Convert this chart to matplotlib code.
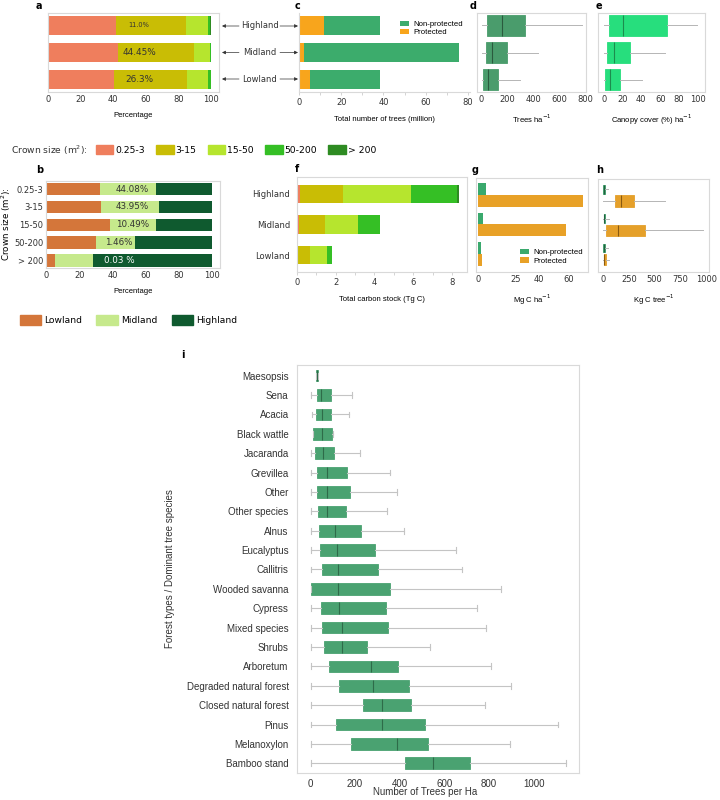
import matplotlib
matplotlib.use("Agg")
import matplotlib.pyplot as plt
from matplotlib.patches import Patch
import numpy as np

plt.rcParams['font.family'] = ['DejaVu Sans']
ARIAL = ['Liberation Sans', 'DejaVu Sans']

# ---------------- data ----------------
regions = ['Highland', 'Midland', 'Lowland']
crown_classes = ['0.25-3', '3-15', '15-50', '50-200', '> 200']
crown_colors = ['#EF7E5D', '#C9BD05', '#B6E52E', '#35BF25', '#2E8B22']

# panel a: % of trees by crown class within each region
a_0253 = [42.0, 43.0, 40.5]
a_315 = [43.0, 46.5, 45.0]
a_1550 = [13.0, 10.2, 13.0]
a_50200 = [1.7, 0.3, 1.5]
a_200 = [0.3, 0.0, 0.0]
a_labels = ['11.0%', '44.45%', '26.3%']

# panel b: % of each crown class by region
b_lowland = [32.6, 33.2, 38.2, 30.2, 5.2]
b_midland = [33.8, 34.8, 27.8, 23.6, 22.8]
b_highland = [33.6, 32.0, 34.0, 46.2, 72.0]
b_labels = ['44.08%', '43.95%', '10.49%', '1.46%', '0.03 %']

# panel c: total number of trees (million)
c_protected = [12.0, 2.2, 5.1]
c_nonprotected = [26.6, 73.8, 33.5]

# panel d: trees per ha (whislo, q1, med, q3, whishi)
d_highland = [0, 44, 160, 337, 777]
d_midland = [0, 31, 83, 194, 440]
d_lowland = [5, 10, 52, 124, 295]

# panel e: canopy cover (%)
e_highland = [0, 5.5, 21, 67.5, 99]
e_midland = [0, 4, 11, 28, 65]
e_lowland = [0, 1.4, 6.8, 17, 41]

# panel f: total carbon stock (Tg C) by crown class
f_0253 = [0.14, 0.09, 0.03]
f_315 = [2.22, 1.34, 0.66]
f_1550 = [3.52, 1.72, 0.86]
f_50200 = [2.38, 1.12, 0.26]
f_200 = [0.12, 0.01, 0.0]

# panel g: Mg C per ha
g_nonprotected = [4.9, 2.9, 1.8]
g_protected = [69.6, 58.2, 2.4]

# panel h: Kg C per tree (whislo, q1, med, q3, whishi)
h_np_highland = [0, 3, 10, 18, 48]
h_np_midland = [0, 4, 12, 22, 58]
h_np_lowland = [0, 3, 10, 18, 45]
h_p_highland = [0, 113, 177, 300, 603]
h_p_midland = [0, 26, 145, 403, 974]
h_p_lowland = [0, 4, 13, 26, 58]

# panel i: trees per ha by forest type / dominant species
i_species = ['Maesopsis', 'Sena', 'Acacia', 'Black wattle', 'Jacaranda', 'Grevillea',
             'Other', 'Other species', 'Alnus', 'Eucalyptus', 'Callitris',
             'Wooded savanna', 'Cypress', 'Mixed species', 'Shrubs', 'Arboretum',
             'Degraded natural forest', 'Closed natural forest', 'Pinus',
             'Melanoxylon', 'Bamboo stand']
i_whislo = [27, 3, 7, 12, 3, 3, 3, 3, 3, 3, 3, 3, 3, 3, 3, 3, 3, 3, 3, 3, 3]
i_q1 = [27, 30, 27, 12, 21, 33, 33, 36, 42, 46, 54, 6, 51, 52, 64, 86, 132, 235, 116, 183, 426]
i_med = [31, 48, 52, 52, 57, 77, 77, 77, 113, 122, 126, 126, 131, 141, 144, 271, 283, 324, 324, 391, 551]
i_q3 = [36, 92, 94, 100, 107, 164, 177, 159, 226, 289, 305, 356, 339, 347, 254, 393, 442, 454, 515, 530, 714]
i_whishi = [36, 186, 173, 104, 225, 360, 391, 344, 421, 653, 682, 854, 746, 787, 537, 811, 900, 781, 1108, 896, 1146]

# ---------------- layout helpers ----------------
W, H = 720, 800
fig = plt.figure(figsize=(W / 100, H / 100), dpi=100)


def add_ax(x0, y0, x1, y1):
    return fig.add_axes([x0 / W, 1 - y1 / H, (x1 - x0) / W, (y1 - y0) / H])


SPINE = '#d9d9d9'
TICKFS = 6


def style(ax, fs=TICKFS, family=None):
    for s in ax.spines.values():
        s.set_color(SPINE)
        s.set_linewidth(0.8)
    ax.tick_params(axis='both', colors='#cccccc', labelcolor='#333333',
                   labelsize=fs, length=2.5, width=0.6, pad=2)
    if family:
        for lab in ax.get_xticklabels() + ax.get_yticklabels():
            lab.set_family(family)


def panel_letter(x, y, s):
    fig.text(x / W, 1 - y / H, s, fontsize=7, fontweight='bold', ha='left', va='center')


ypos = np.arange(len(regions))

# ---------------- panel a ----------------
ax = add_ax(48, 13, 219, 92)
left = np.zeros(3)
for vals, col in zip([a_0253, a_315, a_1550, a_50200, a_200], crown_colors):
    ax.barh(ypos, vals, left=left, height=0.7, color=col)
    left += np.array(vals)
ax.set_xlim(0, 105)
ax.set_ylim(2.46, -0.46)
ax.set_yticks([])
ax.set_xticks([0, 20, 40, 60, 80, 100])
for k, t in enumerate(a_labels):
    ax.text(56, k, t, ha='center', va='center', fontsize=4.8 if k == 0 else 6.4, color='#333333')
ax.set_xlabel('Percentage', fontsize=5.5, family=ARIAL, labelpad=6)
style(ax)
ax.tick_params(axis='x', length=0)
panel_letter(36, 6, 'a')

# arrows between a and c
for k, name in enumerate(regions):
    yy = H - (26 + 26.5 * k)
    fig.text(259.5 / W, yy / H, name, fontsize=6, ha='center', va='center', color='#333333')
    ax.annotate('', xy=(222, yy), xytext=(239, yy), xycoords='figure pixels',
                textcoords='figure pixels',
                arrowprops=dict(arrowstyle='-|>', color='#333333', lw=0.5,
                                mutation_scale=5, shrinkA=0, shrinkB=0))
    ax.annotate('', xy=(298, yy), xytext=(280, yy), xycoords='figure pixels',
                textcoords='figure pixels',
                arrowprops=dict(arrowstyle='-|>', color='#333333', lw=0.5,
                                mutation_scale=5, shrinkA=0, shrinkB=0))

# ---------------- panel c ----------------
ax = add_ax(299, 13, 470, 92)
ax.barh(ypos, c_protected, height=0.72, color='#F8A51C', label='Protected')
ax.barh(ypos, c_nonprotected, left=c_protected, height=0.72, color='#3CAC6C', label='Non-protected')
ax.set_xlim(0, 81)
ax.set_ylim(2.46, -0.46)
ax.set_yticks([])
ax.set_xticks([0, 20, 40, 60, 80])
ax.set_xticks([10, 30, 50, 70], minor=True)
ax.set_xlabel('Total number of trees (million)', fontsize=5.5, family=ARIAL, labelpad=6)
h_, l_ = ax.get_legend_handles_labels()
ax.legend(h_[::-1], l_[::-1], loc='upper right', bbox_to_anchor=(0.99, 0.97), frameon=False,
          prop={'family': ARIAL, 'size': 5.6}, handlelength=1.2, handleheight=0.7,
          handletextpad=0.5, labelspacing=0.1, borderpad=0.2)
style(ax)
for s in ['top', 'right']:
    ax.spines[s].set_visible(False)
ax.tick_params(axis='x', which='minor', length=2, colors='#cccccc')
panel_letter(295, 6, 'c')


def region_boxes(ax, stats_list, color, median_color, positions, width, caps=False):
    stats = [dict(whislo=s[0], q1=s[1], med=s[2], q3=s[3], whishi=s[4]) for s in stats_list]
    ax.bxp(stats, positions=positions, widths=width, orientation='horizontal',
           patch_artist=True, showfliers=False, showcaps=caps,
           boxprops=dict(facecolor=color, edgecolor=color, linewidth=0.6),
           medianprops=dict(color=median_color, linewidth=0.8),
           whiskerprops=dict(color='#b5b5b5', linewidth=0.7),
           capprops=dict(color='#b5b5b5', linewidth=0.7))


# ---------------- panel d ----------------
ax = add_ax(477, 13, 586, 92)
region_boxes(ax, [d_highland, d_midland, d_lowland], '#4A9C6C', '#2A5A3E', ypos, 0.8)
ax.set_xlim(-35, 808)
ax.set_ylim(2.46, -0.46)
ax.set_yticks([])
ax.set_xticks([0, 200, 400, 600, 800])
ax.set_xticklabels(['0', '200', '400', '600', '800'])
ax.set_xlabel('Trees ha$^{-1}$', fontsize=5.5, family=ARIAL, labelpad=6)
style(ax)
ax.tick_params(axis='x', length=0)
panel_letter(470, 6, 'd')

# ---------------- panel e ----------------
ax = add_ax(598, 13, 705, 92)
region_boxes(ax, [e_highland, e_midland, e_lowland], '#27DE7D', '#1C8C4E', ypos, 0.8)
ax.set_xlim(-6, 107.5)
ax.set_ylim(2.46, -0.46)
ax.set_yticks([])
ax.set_xticks([0, 20, 40, 60, 80, 100])
ax.set_xticklabels(['0', '20', '40', '60', '80', '100'])
ax.set_xlabel('Canopy cover (%) ha$^{-1}$', fontsize=5.5, family=ARIAL, labelpad=6)
style(ax)
ax.tick_params(axis='x', length=0)
panel_letter(596, 6, 'e')

# ---------------- crown size legend ----------------
fig.text(11 / W, 1 - 150 / H, 'Crown size (m$^2$):', fontsize=6.6, ha='left', va='center', color='#333333')
fig.legend([Patch(color=c) for c in crown_colors], crown_classes, ncol=5,
           loc='center left', bbox_to_anchor=(90 / W, 1 - 150 / H), frameon=False,
           fontsize=6.7, handlelength=1.9, handleheight=1.1, handletextpad=0.2,
           columnspacing=1.2, borderpad=0.1)

# ---------------- panel b ----------------
ax = add_ax(46, 181, 220, 268)
yb = np.arange(len(crown_classes))
b_colors = ['#D4763A', '#C6E98C', '#0F5A2F']
left = np.zeros(len(crown_classes))
for vals, col in zip([b_lowland, b_midland, b_highland], b_colors):
    ax.barh(yb, vals, left=left, height=0.7, color=col)
    left += np.array(vals)
ax.set_xlim(0, 104.6)
ax.set_ylim(4.42, -0.45)
ax.set_yticks(yb)
ax.set_yticklabels(crown_classes)
ax.set_xticks([0, 20, 40, 60, 80, 100])
for k, t in enumerate(b_labels):
    ax.text(52 if k < 3 else 44, k, t, ha='center', va='center', fontsize=6.3,
            color='white' if k == 4 else '#333333')
ax.set_xlabel('Percentage', fontsize=5.5, family=ARIAL, labelpad=6)
ax.set_ylabel('Crown size (m$^2$):', fontsize=6.3)
ax.yaxis.set_label_coords(-0.19, 0.5)
style(ax)
ax.tick_params(axis='both', length=0)
panel_letter(36, 170, 'b')

fig.legend([Patch(color=c) for c in b_colors], ['Lowland', 'Midland', 'Highland'], ncol=3,
           loc='center left', bbox_to_anchor=(14 / W, 1 - 320 / H), frameon=False,
           fontsize=6.6, handlelength=2.35, handleheight=1.4, handletextpad=0.35,
           columnspacing=1.55, borderpad=0.1)

# ---------------- panel f ----------------
ax = add_ax(297, 177, 467, 272)
left = np.zeros(3)
for vals, col in zip([f_0253, f_315, f_1550, f_50200, f_200], crown_colors):
    ax.barh(ypos, vals, left=left, height=0.6, color=col)
    left += np.array(vals)
ax.set_xlim(0, 8.78)
ax.set_ylim(2.55, -0.55)
ax.set_yticks(ypos)
ax.set_yticklabels(regions)
ax.set_xticks([0, 2, 4, 6, 8])
ax.set_xticks([1, 3, 5, 7], minor=True)
ax.set_xlabel('Total carbon stock (Tg C)', fontsize=5.5, family=ARIAL, labelpad=6)
style(ax)
ax.tick_params(axis='y', length=0, pad=5)
ax.tick_params(axis='x', which='minor', length=2, colors='#cccccc')
panel_letter(295, 169, 'f')

# ---------------- panel g ----------------
ax = add_ax(476, 178, 588, 272)
ax.barh(ypos - 0.2, g_nonprotected, height=0.4, color='#3AA96D', label='Non-protected')
ax.barh(ypos + 0.2, g_protected, height=0.4, color='#E8A127', label='Protected')
ax.set_xlim(-1.5, 73)
ax.set_ylim(2.62, -0.58)
ax.set_yticks([])
ax.set_xticks([0, 25, 40, 60])
ax.set_xlabel('Mg C ha$^{-1}$', fontsize=5.5, family=ARIAL, labelpad=6)
ax.legend(loc='lower right', bbox_to_anchor=(1.0, 0.02), frameon=False,
          prop={'family': ARIAL, 'size': 5.6}, handlelength=1.2, handleheight=0.7,
          handletextpad=0.5, labelspacing=0.1, borderpad=0.2)
style(ax)
ax.tick_params(axis='x', length=0)
panel_letter(472, 170, 'g')

# ---------------- panel h ----------------
ax = add_ax(598, 179, 709, 272)
region_boxes(ax, [h_np_highland, h_np_midland, h_np_lowland], '#3A9E68', '#24603F', ypos - 0.2, 0.3)
region_boxes(ax, [h_p_highland, h_p_midland, h_p_lowland], '#E5A02A', '#8A5A10', ypos + 0.2, 0.38)
ax.set_xlim(-50, 1028)
ax.set_ylim(2.62, -0.55)
ax.set_yticks([])
ax.set_xticks([0, 250, 500, 750, 1000])
ax.set_xticklabels(['0', '250', '500', '750', '1000'])
ax.set_xlabel('Kg C tree$^{-1}$', fontsize=5.5, family=ARIAL, labelpad=6)
style(ax)
ax.tick_params(axis='x', length=0)
panel_letter(596, 170, 'h')

# ---------------- panel i ----------------
ax = add_ax(297, 365, 579, 773)
yi = np.arange(len(i_species))
stats = [dict(whislo=a, q1=b, med=c, q3=d, whishi=e, label=s)
         for s, a, b, c, d, e in zip(i_species, i_whislo, i_q1, i_med, i_q3, i_whishi)]
ax.bxp(stats, positions=yi, widths=0.6, orientation='horizontal', patch_artist=True,
       showfliers=False, showcaps=True,
       boxprops=dict(facecolor='#4AA271', edgecolor='#4AA271', linewidth=0.6),
       medianprops=dict(color='#2E6B49', linewidth=0.8),
       whiskerprops=dict(color='#c4c4c4', linewidth=0.8),
       capprops=dict(color='#c4c4c4', linewidth=0.8))
ax.set_xlim(-58, 1203)
ax.set_ylim(20.5, -0.55)
ax.set_yticks(yi)
ax.set_yticklabels(i_species)
ax.set_xticks([0, 200, 400, 600, 800, 1000])
ax.set_xticklabels(['0', '200', '400', '600', '800', '1000'])
style(ax, fs=7, family=ARIAL)
ax.tick_params(axis='y', length=0, pad=6)
ax.tick_params(axis='x', length=0, pad=4)
ax.set_xlabel('Number of Trees per Ha', fontsize=7, family=ARIAL, color='#333333')
ax.xaxis.set_label_coords(0.455, -0.035)
ax.set_ylabel('Forest types / Dominant tree species', fontsize=7, family=ARIAL, labelpad=8, color='#333333')
panel_letter(181, 355, 'i')

fig.savefig('out.png', dpi=100)
